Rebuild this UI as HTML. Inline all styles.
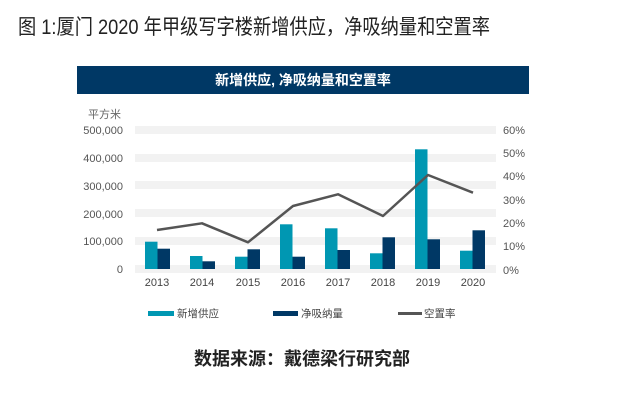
<!DOCTYPE html>
<html><head><meta charset="utf-8"><style>
html,body{margin:0;padding:0;background:#fff;}
body{width:625px;height:404px;overflow:hidden;}
svg text{font-family:"Liberation Sans","Noto Sans CJK SC",sans-serif;}
</style></head><body>
<svg width="625" height="404" xmlns="http://www.w3.org/2000/svg">
<text x="18" y="34" font-size="21" fill="#222" textLength="472" lengthAdjust="spacingAndGlyphs">图 1:厦门 2020 年甲级写字楼新增供应，净吸纳量和空置率</text>
<rect x="77" y="66" width="452" height="28" fill="#003865"/>
<text x="303" y="85" font-size="14" font-weight="bold" fill="#fff" text-anchor="middle">新增供应, 净吸纳量和空置率</text>
<text x="88" y="118" font-size="11" fill="#666">平方米</text>
<g fill="#f2f2f2">
<rect x="135" y="126" width="361" height="8"/>
<rect x="135" y="154" width="361" height="8"/>
<rect x="135" y="181" width="361" height="8"/>
<rect x="135" y="209" width="361" height="8"/>
<rect x="135" y="237" width="361" height="8"/>
<rect x="135" y="265" width="361" height="8"/>
</g>
<g font-size="11" fill="#555" text-anchor="end">
<text x="123" y="134">500,000</text>
<text x="123" y="162">400,000</text>
<text x="123" y="190">300,000</text>
<text x="123" y="218">200,000</text>
<text x="123" y="245">100,000</text>
<text x="123" y="273">0</text>
</g>
<g font-size="11" fill="#555">
<text x="503" y="134">60%</text>
<text x="503" y="157">50%</text>
<text x="503" y="180">40%</text>
<text x="503" y="204">30%</text>
<text x="503" y="227">20%</text>
<text x="503" y="250">10%</text>
<text x="503" y="274">0%</text>
</g>
<g fill="#0097b2">
<rect x="145" y="241.7" width="12.5" height="27.3"/>
<rect x="190" y="256" width="12.5" height="13"/>
<rect x="235" y="256.7" width="12.5" height="12.3"/>
<rect x="280" y="224.3" width="12.5" height="44.7"/>
<rect x="325" y="228.3" width="12.5" height="40.7"/>
<rect x="370" y="253.3" width="12.5" height="15.7"/>
<rect x="415" y="149.3" width="12.5" height="119.7"/>
<rect x="460" y="250.7" width="12.5" height="18.3"/>
</g>
<g fill="#003865">
<rect x="157.5" y="248.7" width="12.5" height="20.3"/>
<rect x="202.5" y="261.3" width="12.5" height="7.7"/>
<rect x="247.5" y="249.3" width="12.5" height="19.7"/>
<rect x="292.5" y="256.7" width="12.5" height="12.3"/>
<rect x="337.5" y="250" width="12.5" height="19"/>
<rect x="382.5" y="237.3" width="12.5" height="31.7"/>
<rect x="427.5" y="239.3" width="12.5" height="29.7"/>
<rect x="472.5" y="230.3" width="12.5" height="38.7"/>
</g>
<polyline points="157,230 202,223.3 248,242.3 293,206 338,194.3 383,216 428,175 473,192.7" fill="none" stroke="#555" stroke-width="2.5" stroke-linejoin="round"/>
<g font-size="11" fill="#444" text-anchor="middle">
<text x="157" y="286">2013</text><text x="202" y="286">2014</text><text x="248" y="286">2015</text><text x="293" y="286">2016</text>
<text x="338" y="286">2017</text><text x="383" y="286">2018</text><text x="428" y="286">2019</text><text x="473" y="286">2020</text>
</g>
<rect x="148" y="311" width="26" height="5" fill="#0097b2"/>
<text x="177" y="317" font-size="10.5" fill="#444">新增供应</text>
<rect x="273" y="311" width="25" height="5" fill="#003865"/>
<text x="301" y="317" font-size="10.5" fill="#444">净吸纳量</text>
<rect x="398" y="312" width="24" height="3" fill="#555"/>
<text x="424" y="317" font-size="10.5" fill="#444">空置率</text>
<text x="302" y="365" font-size="18" font-weight="bold" fill="#222" text-anchor="middle">数据来源：戴德梁行研究部</text>
</svg>
</body></html>
